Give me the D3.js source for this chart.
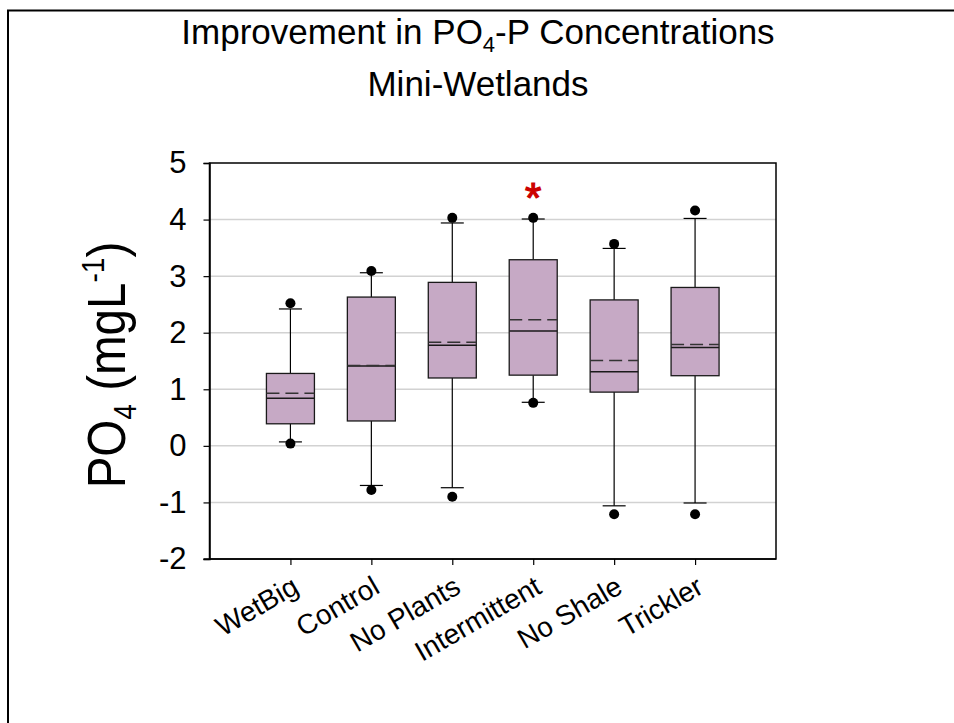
<!DOCTYPE html>
<html>
<head>
<meta charset="utf-8">
<script src="https://cdn.jsdelivr.net/npm/d3@7"></script>
<style>
  body { margin: 0; background: #fff; }
  svg text { font-family: Arial, "Liberation Sans", sans-serif; fill: #000; }
</style>
</head>
<body>
<svg id="chart" width="954" height="723"></svg>
<script>
const categories = ['WetBig', 'Control', 'No Plants', 'Intermittent', 'No Shale', 'Trickler']
const q1 = [0.39, 0.44, 1.20, 1.25, 0.95, 1.24]
const median = [0.84, 1.41, 1.78, 2.03, 1.31, 1.74]
const q3 = [1.28, 2.63, 2.89, 3.29, 2.58, 2.80]
const mean = [0.93, 1.42, 1.83, 2.23, 1.51, 1.79]
const whiskerLow = [0.07, -0.70, -0.74, 0.77, -1.06, -1.01]
const whiskerHigh = [2.42, 3.06, 3.94, 4.01, 3.49, 4.02]
const outlierLow = [0.04, -0.78, -0.90, 0.76, -1.21, -1.21]
const outlierHigh = [2.52, 3.09, 4.03, 4.03, 3.57, 4.16]
const yTicks = [-2, -1, 0, 1, 2, 3, 4, 5]
const gridValues = [-1, 0, 1, 2, 3, 4]
const significant = [{category: 'Intermittent', value: 4.6}]

const svg = d3.select('#chart')

// outer frame (runs off the right and bottom of the picture)
svg.append('rect')
  .attr('x', 8).attr('y', 10.5)
  .attr('width', 1000).attr('height', 1000)
  .attr('fill', 'none').attr('stroke', '#000').attr('stroke-width', 2)

const plotLeft = 209.5, plotRight = 776, plotTop = 163, plotBottom = 559

const x = d3.scaleLinear().domain([0, categories.length + 1]).range([plotLeft, plotRight])
const y = d3.scaleLinear().domain([-2, 5]).range([plotBottom, plotTop])
const xPos = i => x(i + 1)

const boxHalf = 24
const capHalf = 11.5

// title
const title = svg.append('text')
  .attr('x', 478).attr('y', 44)
  .attr('text-anchor', 'middle')
  .style('font-size', '35px')
title.append('tspan').text('Improvement in PO')
title.append('tspan').text('4').style('font-size', '22px').attr('dy', 8)
title.append('tspan').text('-P Concentrations').attr('dy', -8)

svg.append('text')
  .attr('x', 478).attr('y', 96)
  .attr('text-anchor', 'middle')
  .style('font-size', '35px')
  .text('Mini-Wetlands')

// gridlines
svg.append('g')
  .selectAll('line')
  .data(gridValues)
  .enter()
  .append('line')
  .attr('x1', plotLeft).attr('x2', plotRight)
  .attr('y1', d => y(d)).attr('y2', d => y(d))
  .attr('stroke', '#d2d2d2').attr('stroke-width', 1.5)

// frame of plot area
svg.append('rect')
  .attr('x', plotLeft).attr('y', plotTop)
  .attr('width', plotRight - plotLeft).attr('height', plotBottom - plotTop)
  .attr('fill', 'none').attr('stroke', '#000').attr('stroke-width', 1.5)

// axes
const yAxis = d3.axisLeft(y).tickValues(yTicks).tickSize(6).tickPadding(17).tickFormat(d => String(d))
const gy = svg.append('g').attr('transform', `translate(${plotLeft},0)`).call(yAxis)
gy.attr('font-family', null).attr('font-size', null)
gy.select('.domain').attr('stroke-width', 1.5)
gy.selectAll('.tick line').attr('stroke-width', 1.2)
gy.selectAll('.tick text').style('font-size', '31px')

const xAxis = d3.axisBottom(x).tickValues(categories.map((c, i) => i + 1)).tickSize(6).tickFormat('')
const gx = svg.append('g').attr('transform', `translate(0,${plotBottom})`).call(xAxis)
gx.select('.domain').attr('d', `M${plotLeft - 6},0H${plotRight}`).attr('stroke-width', 1.5)
gx.selectAll('.tick line').attr('stroke-width', 1.2)

svg.append('g')
  .selectAll('text')
  .data(categories)
  .enter()
  .append('text')
  .attr('text-anchor', 'end')
  .attr('transform', (d, i) => `translate(${xPos(i) + 10},${plotBottom + 33}) rotate(-30)`)
  .style('font-size', '28px')
  .text(d => d)

// y axis title
const yTitle = svg.append('text')
  .attr('text-anchor', 'middle')
  .attr('transform', 'translate(125,365) rotate(-90) scale(0.88,1)')
  .style('font-size', '54px')
yTitle.append('tspan').text('PO')
yTitle.append('tspan').text('4').style('font-size', '32px').attr('dy', 11)
yTitle.append('tspan').text(' (mgL').attr('dy', -11)
yTitle.append('tspan').text('-1').style('font-size', '32px').attr('dy', -21)
yTitle.append('tspan').text(')').attr('dy', 21)

// boxes
const boxes = svg.append('g')
  .selectAll('g')
  .data(categories)
  .enter()
  .append('g')

boxes.append('line')
  .attr('x1', (d, i) => xPos(i)).attr('x2', (d, i) => xPos(i))
  .attr('y1', (d, i) => y(whiskerHigh[i])).attr('y2', (d, i) => y(q3[i]))
  .attr('stroke', '#000').attr('stroke-width', 1.2)
boxes.append('line')
  .attr('x1', (d, i) => xPos(i)).attr('x2', (d, i) => xPos(i))
  .attr('y1', (d, i) => y(q1[i])).attr('y2', (d, i) => y(whiskerLow[i]))
  .attr('stroke', '#000').attr('stroke-width', 1.2)
boxes.append('line')
  .attr('x1', (d, i) => xPos(i) - capHalf).attr('x2', (d, i) => xPos(i) + capHalf)
  .attr('y1', (d, i) => y(whiskerHigh[i])).attr('y2', (d, i) => y(whiskerHigh[i]))
  .attr('stroke', '#000').attr('stroke-width', 1.2)
boxes.append('line')
  .attr('x1', (d, i) => xPos(i) - capHalf).attr('x2', (d, i) => xPos(i) + capHalf)
  .attr('y1', (d, i) => y(whiskerLow[i])).attr('y2', (d, i) => y(whiskerLow[i]))
  .attr('stroke', '#000').attr('stroke-width', 1.2)

boxes.append('rect')
  .attr('x', (d, i) => xPos(i) - boxHalf)
  .attr('width', boxHalf * 2)
  .attr('y', (d, i) => y(q3[i]))
  .attr('height', (d, i) => y(q1[i]) - y(q3[i]))
  .attr('fill', '#c6a9c5').attr('stroke', '#1a1a1a').attr('stroke-width', 1.3)

boxes.append('line')
  .attr('x1', (d, i) => xPos(i) - boxHalf).attr('x2', (d, i) => xPos(i) + boxHalf)
  .attr('y1', (d, i) => y(median[i])).attr('y2', (d, i) => y(median[i]))
  .attr('stroke', '#1a1a1a').attr('stroke-width', 1.5)
boxes.append('line')
  .attr('x1', (d, i) => xPos(i) - boxHalf).attr('x2', (d, i) => xPos(i) + boxHalf)
  .attr('y1', (d, i) => y(mean[i])).attr('y2', (d, i) => y(mean[i]))
  .attr('stroke', '#333').attr('stroke-width', 1.5)
  .attr('stroke-dasharray', '13,6')

boxes.append('circle')
  .attr('cx', (d, i) => xPos(i)).attr('cy', (d, i) => y(outlierHigh[i]))
  .attr('r', 5).attr('fill', '#000')
boxes.append('circle')
  .attr('cx', (d, i) => xPos(i)).attr('cy', (d, i) => y(outlierLow[i]))
  .attr('r', 5).attr('fill', '#000')

// significance marker
svg.append('g')
  .selectAll('text')
  .data(significant)
  .enter()
  .append('text')
  .attr('x', d => xPos(categories.indexOf(d.category)))
  .attr('y', d => y(d.value) + 26)
  .attr('text-anchor', 'middle')
  .style('font-size', '42px')
  .style('fill', '#cc0000')
  .style('stroke', '#cc0000')
  .style('stroke-width', 1.2)
  .text('*')
</script>
</body>
</html>
